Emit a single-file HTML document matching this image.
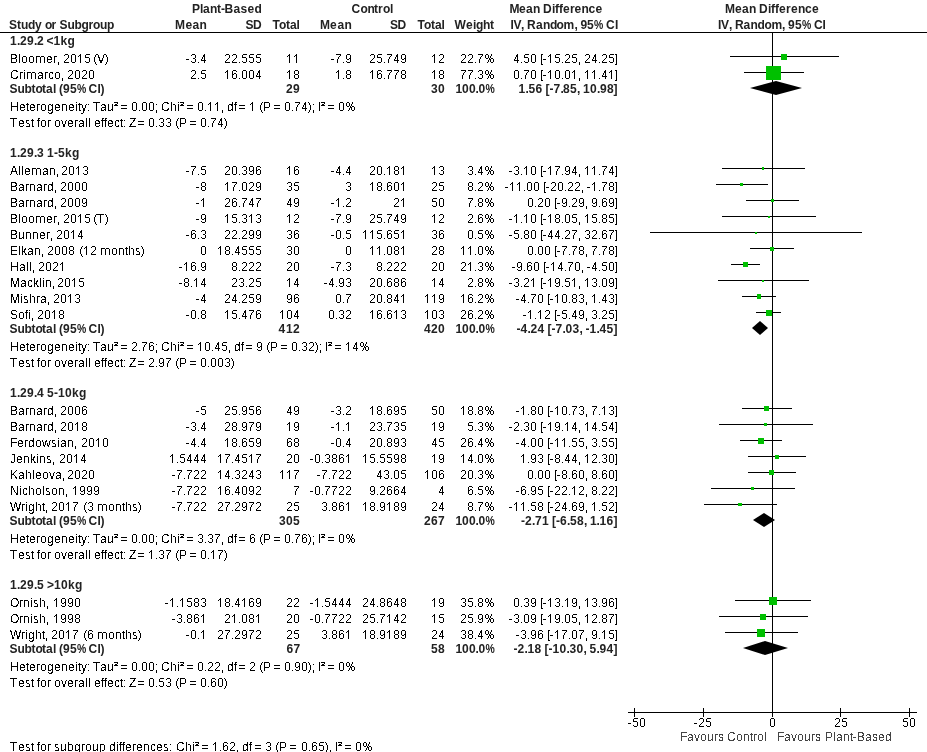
<!DOCTYPE html>
<html><head><meta charset="utf-8"><title>Forest plot</title>
<style>
html,body{margin:0;padding:0;background:#fff;overflow:hidden;}
svg{display:block;will-change:transform;font-family:"Liberation Sans",sans-serif;font-size:12px;font-kerning:none;font-variant-ligatures:none;}
text{white-space:pre;}
</style></head><body>
<svg width="927" height="752" viewBox="0 0 927 752" shape-rendering="crispEdges">
<defs><filter id="th" filterUnits="userSpaceOnUse" x="0" y="0" width="927" height="752" color-interpolation-filters="sRGB"><feComponentTransfer><feFuncA type="discrete" tableValues="0 1"/></feComponentTransfer></filter>
<path id="g0" d="M1 0h3v1h-3zM0 1h1v1h-1zM4 1h1v1h-1zM0 2h1v1h-1zM4 2h1v1h-1zM0 3h1v1h-1zM4 3h1v1h-1zM0 4h1v1h-1zM4 4h1v1h-1zM0 5h1v1h-1zM4 5h1v1h-1zM0 6h1v1h-1zM4 6h1v1h-1zM0 7h1v1h-1zM4 7h1v1h-1zM1 8h3v1h-3z"/><path id="g1" d="M2 0h1v1h-1zM1 1h2v1h-2zM0 2h1v1h-1zM2 2h1v1h-1zM2 3h1v1h-1zM2 4h1v1h-1zM2 5h1v1h-1zM2 6h1v1h-1zM2 7h1v1h-1zM2 8h1v1h-1z"/><path id="g2" d="M1 0h3v1h-3zM0 1h1v1h-1zM4 1h1v1h-1zM4 2h1v1h-1zM4 3h1v1h-1zM3 4h1v1h-1zM2 5h1v1h-1zM1 6h1v1h-1zM0 7h1v1h-1zM0 8h5v1h-5z"/><path id="g3" d="M1 0h3v1h-3zM0 1h1v1h-1zM4 1h1v1h-1zM4 2h1v1h-1zM4 3h1v1h-1zM2 4h2v1h-2zM4 5h1v1h-1zM4 6h1v1h-1zM0 7h1v1h-1zM4 7h1v1h-1zM1 8h3v1h-3z"/><path id="g4" d="M3 0h1v1h-1zM2 1h2v1h-2zM2 2h2v1h-2zM1 3h1v1h-1zM3 3h1v1h-1zM1 4h1v1h-1zM3 4h1v1h-1zM0 5h1v1h-1zM3 5h1v1h-1zM0 6h5v1h-5zM3 7h1v1h-1zM3 8h1v1h-1z"/><path id="g5" d="M1 0h4v1h-4zM0 1h1v1h-1zM0 2h1v1h-1zM0 3h4v1h-4zM4 4h1v1h-1zM4 5h1v1h-1zM4 6h1v1h-1zM0 7h1v1h-1zM4 7h1v1h-1zM1 8h3v1h-3z"/><path id="g6" d="M1 0h3v1h-3zM0 1h1v1h-1zM4 1h1v1h-1zM0 2h1v1h-1zM0 3h1v1h-1zM2 3h2v1h-2zM0 4h2v1h-2zM4 4h1v1h-1zM0 5h1v1h-1zM4 5h1v1h-1zM0 6h1v1h-1zM4 6h1v1h-1zM0 7h1v1h-1zM4 7h1v1h-1zM1 8h3v1h-3z"/><path id="g7" d="M0 0h5v1h-5zM4 1h1v1h-1zM3 2h1v1h-1zM2 3h1v1h-1zM2 4h1v1h-1zM1 5h1v1h-1zM1 6h1v1h-1zM1 7h1v1h-1zM1 8h1v1h-1z"/><path id="g8" d="M1 0h3v1h-3zM0 1h1v1h-1zM4 1h1v1h-1zM0 2h1v1h-1zM4 2h1v1h-1zM0 3h1v1h-1zM4 3h1v1h-1zM1 4h3v1h-3zM0 5h1v1h-1zM4 5h1v1h-1zM0 6h1v1h-1zM4 6h1v1h-1zM0 7h1v1h-1zM4 7h1v1h-1zM1 8h3v1h-3z"/><path id="g9" d="M1 0h3v1h-3zM0 1h1v1h-1zM4 1h1v1h-1zM0 2h1v1h-1zM4 2h1v1h-1zM0 3h1v1h-1zM4 3h1v1h-1zM0 4h1v1h-1zM3 4h2v1h-2zM1 5h2v1h-2zM4 5h1v1h-1zM4 6h1v1h-1zM0 7h1v1h-1zM4 7h1v1h-1zM1 8h3v1h-3z"/><path id="g10" d="M0 8h1v1h-1z"/><path id="g11" d="M0 8h1v1h-1zM0 9h1v1h-1zM0 10h1v1h-1z"/><path id="g12" d="M0 2h1v1h-1zM0 8h1v1h-1zM0 9h1v1h-1zM0 10h1v1h-1z"/><path id="g13" d="M0 2h1v1h-1zM0 8h1v1h-1z"/><path id="g14" d="M0 5h3v1h-3z"/><path id="g15" d="M0 0h2v1h-2zM0 1h1v1h-1zM0 2h1v1h-1zM0 3h1v1h-1zM0 4h1v1h-1zM0 5h1v1h-1zM0 6h1v1h-1zM0 7h1v1h-1zM0 8h1v1h-1zM0 9h1v1h-1zM0 10h2v1h-2z"/><path id="g16" d="M0 0h2v1h-2zM1 1h1v1h-1zM1 2h1v1h-1zM1 3h1v1h-1zM1 4h1v1h-1zM1 5h1v1h-1zM1 6h1v1h-1zM1 7h1v1h-1zM1 8h1v1h-1zM1 9h1v1h-1zM0 10h2v1h-2z"/><path id="g17" d="M2 0h1v1h-1zM1 1h1v1h-1zM1 2h1v1h-1zM0 3h1v1h-1zM0 4h1v1h-1zM0 5h1v1h-1zM0 6h1v1h-1zM0 7h1v1h-1zM1 8h1v1h-1zM1 9h1v1h-1zM2 10h1v1h-1z"/><path id="g18" d="M0 0h1v1h-1zM1 1h1v1h-1zM1 2h1v1h-1zM2 3h1v1h-1zM2 4h1v1h-1zM2 5h1v1h-1zM2 6h1v1h-1zM2 7h1v1h-1zM1 8h1v1h-1zM1 9h1v1h-1zM0 10h1v1h-1z"/><path id="g19" d="M0 3h6v1h-6zM0 6h6v1h-6z"/><path id="g20" d="M0 0h4v1h-4zM3 1h1v1h-1zM1 2h2v1h-2zM0 3h4v1h-4z"/><path id="g21" d="M0 2h4v1h-4zM5 2h3v1h-3zM0 3h1v1h-1zM4 3h1v1h-1zM8 3h1v1h-1zM0 4h1v1h-1zM4 4h1v1h-1zM8 4h1v1h-1zM0 5h1v1h-1zM4 5h1v1h-1zM8 5h1v1h-1zM0 6h1v1h-1zM4 6h1v1h-1zM8 6h1v1h-1zM0 7h1v1h-1zM4 7h1v1h-1zM8 7h1v1h-1zM0 8h1v1h-1zM4 8h1v1h-1zM8 8h1v1h-1z"/><path id="g22" d="M1 0h2v1h-2zM6 0h1v1h-1zM0 1h1v1h-1zM3 1h1v1h-1zM6 1h1v1h-1zM0 2h1v1h-1zM3 2h1v1h-1zM5 2h1v1h-1zM0 3h1v1h-1zM3 3h1v1h-1zM5 3h1v1h-1zM1 4h2v1h-2zM4 4h1v1h-1zM6 4h2v1h-2zM4 5h2v1h-2zM8 5h1v1h-1zM3 6h1v1h-1zM5 6h1v1h-1zM8 6h1v1h-1zM3 7h1v1h-1zM5 7h1v1h-1zM8 7h1v1h-1zM2 8h1v1h-1zM6 8h2v1h-2z"/></defs>
<rect width="927" height="752" fill="#fff"/>
<text y="13" x="192 200 203 210 217 221 224.5 233.5 240.5 247.5 254.5" font-weight="bold" fill="#222">Plant-Based</text>
<text y="13" x="351.5 360.5 367.5 374 378 383 390" font-weight="bold" fill="#222">Control</text>
<text y="13" x="509.5 519 526 533 543 552 555 559 563 570 574.5 581.5 588.5 595.5" font-weight="bold" fill="#222">MeanDifference</text>
<text y="13" x="725 735 742 749 759 768 771 775 779 786 791 798 805 812" font-weight="bold" fill="#222">MeanDifference</text>
<text y="29" x="9 17 21 28 35 45 51.5 59.5 67.5 74.5 81.5 88.5 93 100 107" font-weight="bold" fill="#222">StudyorSubgroup</text>
<text y="29" x="175 185.5 192.5 199.5" font-weight="bold" fill="#222">Mean</text>
<text y="29" x="245.5 253" font-weight="bold" fill="#222">SD</text>
<text y="29" x="272.5 279 286 290 296.5" font-weight="bold" fill="#222">Total</text>
<text y="29" x="320 330 337.5 344.5" font-weight="bold" fill="#222">Mean</text>
<text y="29" x="390 397.5" font-weight="bold" fill="#222">SD</text>
<text y="29" x="417.5 424 431 435 441.5" font-weight="bold" fill="#222">Total</text>
<text y="29" x="454.5 466 473 476 483 490" font-weight="bold" fill="#222">Weight</text>
<text y="29" x="510.5 513.5 521 527 536 543 550 556.5 563.5 574.5 580.5 587" font-weight="bold" fill="#222">IV,Random,95</text>
<text transform="translate(594,29) scale(0.87,1)" font-weight="bold" fill="#222">%</text>
<text y="29" x="606 615" font-weight="bold" fill="#222">CI</text>
<text y="29" x="718 721 729 735 743.5 750.5 757.5 764.5 771.5 782 788 795" font-weight="bold" fill="#222">IV,Random,95</text>
<text transform="translate(802,29) scale(0.87,1)" font-weight="bold" fill="#222">%</text>
<text y="29" x="814 822.5" font-weight="bold" fill="#222">CI</text>
<rect x="0" y="32" width="927" height="1" fill="#000"/>
<rect x="772" y="33" width="1" height="679" fill="#000"/>
<text y="45" x="10 17 20 27 34 37 46.5 53.5 60.5 67.5" font-weight="bold" fill="#222">1.29.2&lt;1kg</text>
<rect x="730" y="56" width="109" height="1" fill="#000"/>
<rect x="781" y="54" width="6" height="6" fill="#00c000"/>
<rect x="744" y="72" width="60" height="1" fill="#000"/>
<rect x="766" y="66" width="15" height="14" fill="#00c000"/>
<text y="93" x="9.5 17.5 24.5 31.5 35.5 42 46 53 59 63 70" font-weight="bold" fill="#222">Subtotal(95</text>
<text transform="translate(77,93) scale(0.87,1)" font-weight="bold" fill="#222">%</text>
<text y="93" x="88.5 97.5 100.5" font-weight="bold" fill="#222">CI)</text>
<text y="93" x="286 293" font-weight="bold" fill="#222">29</text>
<text y="93" x="431 438" font-weight="bold" fill="#222">30</text>
<text y="93" x="455.5 462 469 475.5 478.5" font-weight="bold" fill="#222">100.0</text>
<text transform="translate(485.5,93) scale(0.87,1)" font-weight="bold" fill="#222">%</text>
<text y="93" x="518.5 525.5 528.5 535.5 545.5 549.5 553.5 560.5 563 570 577 583 590 597 600 607 613.5" font-weight="bold" fill="#222">1.56[-7.85,10.98]</text>
<polygon shape-rendering="geometricPrecision" points="750,88 776,81 802,88 776,95" fill="#000"/>
<text y="157" x="10 17 20 27 34 37 47 54 58 65 72" font-weight="bold" fill="#222">1.29.31-5kg</text>
<rect x="722" y="168" width="83" height="1" fill="#000"/>
<rect x="762" y="167" width="2" height="3" fill="#00c000"/>
<rect x="716" y="184" width="52" height="1" fill="#000"/>
<rect x="740" y="183" width="3" height="3" fill="#00c000"/>
<rect x="746" y="200" width="53" height="1" fill="#000"/>
<rect x="771" y="199" width="3" height="3" fill="#00c000"/>
<rect x="722" y="216" width="94" height="1" fill="#000"/>
<rect x="768" y="216" width="2" height="2" fill="#00c000"/>
<rect x="650" y="232" width="212" height="1" fill="#000"/>
<rect x="755" y="232" width="2" height="2" fill="#00c000"/>
<rect x="750" y="248" width="44" height="1" fill="#000"/>
<rect x="770" y="247" width="4" height="4" fill="#00c000"/>
<rect x="731" y="264" width="29" height="1" fill="#000"/>
<rect x="743" y="262" width="5" height="5" fill="#00c000"/>
<rect x="718" y="280" width="91" height="1" fill="#000"/>
<rect x="762" y="280" width="2" height="2" fill="#00c000"/>
<rect x="742" y="296" width="34" height="1" fill="#000"/>
<rect x="757" y="294" width="4" height="5" fill="#00c000"/>
<rect x="756" y="312" width="25" height="1" fill="#000"/>
<rect x="766" y="310" width="6" height="6" fill="#00c000"/>
<text y="333" x="9.5 17.5 24.5 31.5 35.5 42 46 53 59 63 70" font-weight="bold" fill="#222">Subtotal(95</text>
<text transform="translate(77,333) scale(0.87,1)" font-weight="bold" fill="#222">%</text>
<text y="333" x="88.5 97.5 100.5" font-weight="bold" fill="#222">CI)</text>
<text y="333" x="278.5 286 293" font-weight="bold" fill="#222">412</text>
<text y="333" x="424 431 438" font-weight="bold" fill="#222">420</text>
<text y="333" x="455.5 462 469 475.5 478.5" font-weight="bold" fill="#222">100.0</text>
<text transform="translate(485.5,333) scale(0.87,1)" font-weight="bold" fill="#222">%</text>
<text y="333" x="516.5 520.5 527.5 530.5 537.5 547.5 551.5 555.5 562.5 565.5 572.5 579.5 585.5 589.5 596.5 599.5 606.5 613.5" font-weight="bold" fill="#222">-4.24[-7.03,-1.45]</text>
<polygon shape-rendering="geometricPrecision" points="752,328 760,321 768,328 760,335" fill="#000"/>
<text y="397" x="10 17 20 27 34 37 47 54 58 65 72 79" font-weight="bold" fill="#222">1.29.45-10kg</text>
<rect x="742" y="408" width="50" height="1" fill="#000"/>
<rect x="764" y="406" width="5" height="5" fill="#00c000"/>
<rect x="719" y="424" width="94" height="1" fill="#000"/>
<rect x="764" y="423" width="3" height="3" fill="#00c000"/>
<rect x="740" y="440" width="42" height="1" fill="#000"/>
<rect x="758" y="438" width="6" height="6" fill="#00c000"/>
<rect x="748" y="456" width="58" height="1" fill="#000"/>
<rect x="775" y="455" width="4" height="4" fill="#00c000"/>
<rect x="748" y="472" width="48" height="1" fill="#000"/>
<rect x="769" y="470" width="5" height="5" fill="#00c000"/>
<rect x="711" y="488" width="84" height="1" fill="#000"/>
<rect x="751" y="487" width="3" height="3" fill="#00c000"/>
<rect x="704" y="504" width="73" height="1" fill="#000"/>
<rect x="738" y="503" width="4" height="3" fill="#00c000"/>
<text y="525" x="9.5 17.5 24.5 31.5 35.5 42 46 53 59 63 70" font-weight="bold" fill="#222">Subtotal(95</text>
<text transform="translate(77,525) scale(0.87,1)" font-weight="bold" fill="#222">%</text>
<text y="525" x="88.5 97.5 100.5" font-weight="bold" fill="#222">CI)</text>
<text y="525" x="279 286 293" font-weight="bold" fill="#222">305</text>
<text y="525" x="424 431 438" font-weight="bold" fill="#222">267</text>
<text y="525" x="455.5 462 469 475.5 478.5" font-weight="bold" fill="#222">100.0</text>
<text transform="translate(485.5,525) scale(0.87,1)" font-weight="bold" fill="#222">%</text>
<text y="525" x="521 525 532 535 542 552 556 560 567 570 577 584 590 596.5 599.5 606.5 613.5" font-weight="bold" fill="#222">-2.71[-6.58,1.16]</text>
<polygon shape-rendering="geometricPrecision" points="753,520 764,513 775,520 764,527" fill="#000"/>
<text y="589" x="10 17 20 27 34 37 47 54 61 68 75" font-weight="bold" fill="#222">1.29.5&gt;10kg</text>
<rect x="735" y="600" width="76" height="1" fill="#000"/>
<rect x="769" y="597" width="8" height="8" fill="#00c000"/>
<rect x="719" y="616" width="89" height="1" fill="#000"/>
<rect x="760" y="614" width="6" height="6" fill="#00c000"/>
<rect x="725" y="632" width="73" height="1" fill="#000"/>
<rect x="757" y="629" width="8" height="8" fill="#00c000"/>
<text y="653" x="9.5 17.5 24.5 31.5 35.5 42 46 53 59 63 70" font-weight="bold" fill="#222">Subtotal(95</text>
<text transform="translate(77,653) scale(0.87,1)" font-weight="bold" fill="#222">%</text>
<text y="653" x="88.5 97.5 100.5" font-weight="bold" fill="#222">CI)</text>
<text y="653" x="286.5 293.5" font-weight="bold" fill="#222">67</text>
<text y="653" x="431 438" font-weight="bold" fill="#222">58</text>
<text y="653" x="455.5 462 469 475.5 478.5" font-weight="bold" fill="#222">100.0</text>
<text transform="translate(485.5,653) scale(0.87,1)" font-weight="bold" fill="#222">%</text>
<text y="653" x="513.5 517.5 524.5 527.5 534.5 544.5 548.5 552.5 559.5 566.5 569.5 576.5 583.5 589.5 596.5 599.5 606.5 613.5" font-weight="bold" fill="#222">-2.18[-10.30,5.94]</text>
<polygon shape-rendering="geometricPrecision" points="743,648 765,641 788,648 765,655" fill="#000"/>
<rect x="628" y="712" width="289" height="1" fill="#000"/>
<rect x="634" y="708" width="1" height="9" fill="#000"/>
<rect x="703" y="708" width="1" height="9" fill="#000"/>
<rect x="772" y="708" width="1" height="9" fill="#000"/>
<rect x="840" y="708" width="1" height="9" fill="#000"/>
<rect x="909" y="708" width="1" height="9" fill="#000"/>
<g filter="url(#th)">
<text y="63" x="10 18 21 28 46 53 97">BlooerV</text>
<text y="79" x="10 19 23 37 44 48 54">Criarco</text>
<text y="111" x="10 19 26 29 36 40 47 54 61 68 75 78 81 93 100 107 161 170 177 227 234 263 318">HeterogeneityTauChidfPI</text>
<text y="127" x="10 18 25 31 37 40 47 54 61 67 74 78 85 88 94 101 104 107 114 120 129 179">TestforoveralleffectZP</text>
<text y="175" x="10 18 21 24 42 49">Allean</text>
<text y="191" x="10 18 25 29 36 43 47">Barnard</text>
<text y="207" x="10 18 25 29 36 43 47">Barnard</text>
<text y="223" x="10 18 21 28 46 53 97">BlooerT</text>
<text y="239" x="10 18 25 32 39 46">Bunner</text>
<text y="255" x="10 18 21 27 34 111 118 125 128 135">Elkanonths</text>
<text y="271" x="10 19 26 29">Hall</text>
<text y="287" x="10 20 27 33 39 42 45">Macklin</text>
<text y="303" x="10 20 23 29 36 40">Mishra</text>
<text y="319" x="10 18 25 28">Sofi</text>
<text y="351" x="10 19 26 29 36 40 47 54 61 68 75 78 81 93 100 107 161 170 177 234 241 270 325">HeterogeneityTauChidfPI</text>
<text y="367" x="10 18 25 31 37 40 47 54 61 67 74 78 85 88 94 101 104 107 114 120 129 179">TestforoveralleffectZP</text>
<text y="415" x="10 18 25 29 36 43 47">Barnard</text>
<text y="431" x="10 18 25 29 36 43 47">Barnard</text>
<text y="447" x="10 17 24 28 35 42 51 57 60 67">Ferdowsian</text>
<text y="463" x="10 16 23 30 36 39 46">Jenkins</text>
<text y="479" x="10 18 25 32 35 42 49 55">Kahleova</text>
<text y="495" x="10 19 22 28 35 42 45 51 58">Nicholson</text>
<text y="511" x="10 21 25 28 35 42 108 115 122 125 132">Wrightonths</text>
<text y="543" x="10 19 26 29 36 40 47 54 61 68 75 78 81 93 100 107 161 170 177 227 234 263 318">HeterogeneityTauChidfPI</text>
<text y="559" x="10 18 25 31 37 40 47 54 61 67 74 78 85 88 94 101 104 107 114 120 129 179">TestforoveralleffectZP</text>
<text y="607" x="10 19 23 30 33 39">Ornish</text>
<text y="623" x="10 19 23 30 33 39">Ornish</text>
<text y="639" x="10 21 25 28 35 42 108 115 122 125 132">Wrightonths</text>
<text y="671" x="10 19 26 29 36 40 47 54 61 68 75 78 81 93 100 107 161 170 177 227 234 263 318">HeterogeneityTauChidfPI</text>
<text y="687" x="10 18 25 31 37 40 47 54 61 67 74 78 85 88 94 101 104 107 114 120 129 179">TestforoveralleffectZP</text>
<text y="741" x="680 687 694 700 707 714 718 727 736 743 750 753 757 764" fill="#444">FavoursControl</text>
<text y="741" x="777 784 791 797 804 811 815 825 833 836 843 850 857 865 872 878 885" fill="#444">FavoursPlantBased</text>
<text y="751" x="10 18 25 31 37 40 47 54 60 67 74 81 85 92 99 109 116 119 122 125 132 136 143 150 156 163 176 185 192 242 249 279 335">TestforsubgroupdifferencesChidfPI</text>
</g>
<g fill="#000">
<use href="#g21" x="36" y="54"/>
<use href="#g11" x="58" y="54"/>
<use href="#g2" x="64" y="54"/>
<use href="#g0" x="71" y="54"/>
<use href="#g1" x="78" y="54"/>
<use href="#g5" x="85" y="54"/>
<use href="#g17" x="94" y="54"/>
<use href="#g18" x="105" y="54"/>
<use href="#g14" x="186" y="54"/>
<use href="#g3" x="191" y="54"/>
<use href="#g10" x="198" y="54"/>
<use href="#g4" x="201" y="54"/>
<use href="#g2" x="225" y="54"/>
<use href="#g2" x="232" y="54"/>
<use href="#g10" x="239" y="54"/>
<use href="#g5" x="242" y="54"/>
<use href="#g5" x="249" y="54"/>
<use href="#g5" x="256" y="54"/>
<use href="#g1" x="287" y="54"/>
<use href="#g1" x="294" y="54"/>
<use href="#g14" x="331" y="54"/>
<use href="#g7" x="336" y="54"/>
<use href="#g10" x="343" y="54"/>
<use href="#g9" x="346" y="54"/>
<use href="#g2" x="370" y="54"/>
<use href="#g5" x="377" y="54"/>
<use href="#g10" x="384" y="54"/>
<use href="#g7" x="387" y="54"/>
<use href="#g4" x="394" y="54"/>
<use href="#g9" x="401" y="54"/>
<use href="#g1" x="432" y="54"/>
<use href="#g2" x="439" y="54"/>
<use href="#g2" x="461" y="54"/>
<use href="#g2" x="468" y="54"/>
<use href="#g10" x="475" y="54"/>
<use href="#g7" x="478" y="54"/>
<use href="#g22" x="485" y="54"/>
<use href="#g4" x="514" y="54"/>
<use href="#g10" x="521" y="54"/>
<use href="#g5" x="524" y="54"/>
<use href="#g0" x="531" y="54"/>
<use href="#g15" x="541" y="54"/>
<use href="#g14" x="543" y="54"/>
<use href="#g1" x="548" y="54"/>
<use href="#g5" x="555" y="54"/>
<use href="#g10" x="562" y="54"/>
<use href="#g2" x="565" y="54"/>
<use href="#g5" x="572" y="54"/>
<use href="#g11" x="579" y="54"/>
<use href="#g2" x="585" y="54"/>
<use href="#g4" x="592" y="54"/>
<use href="#g10" x="599" y="54"/>
<use href="#g2" x="602" y="54"/>
<use href="#g5" x="609" y="54"/>
<use href="#g16" x="615" y="54"/>
<use href="#g21" x="27" y="70"/>
<use href="#g11" x="62" y="70"/>
<use href="#g2" x="68" y="70"/>
<use href="#g0" x="75" y="70"/>
<use href="#g2" x="82" y="70"/>
<use href="#g0" x="89" y="70"/>
<use href="#g2" x="191" y="70"/>
<use href="#g10" x="198" y="70"/>
<use href="#g5" x="201" y="70"/>
<use href="#g1" x="225" y="70"/>
<use href="#g6" x="232" y="70"/>
<use href="#g10" x="239" y="70"/>
<use href="#g0" x="242" y="70"/>
<use href="#g0" x="249" y="70"/>
<use href="#g4" x="256" y="70"/>
<use href="#g1" x="287" y="70"/>
<use href="#g8" x="294" y="70"/>
<use href="#g1" x="336" y="70"/>
<use href="#g10" x="343" y="70"/>
<use href="#g8" x="346" y="70"/>
<use href="#g1" x="370" y="70"/>
<use href="#g6" x="377" y="70"/>
<use href="#g10" x="384" y="70"/>
<use href="#g7" x="387" y="70"/>
<use href="#g7" x="394" y="70"/>
<use href="#g8" x="401" y="70"/>
<use href="#g1" x="432" y="70"/>
<use href="#g8" x="439" y="70"/>
<use href="#g7" x="461" y="70"/>
<use href="#g7" x="468" y="70"/>
<use href="#g10" x="475" y="70"/>
<use href="#g3" x="478" y="70"/>
<use href="#g22" x="485" y="70"/>
<use href="#g0" x="514" y="70"/>
<use href="#g10" x="521" y="70"/>
<use href="#g7" x="524" y="70"/>
<use href="#g0" x="531" y="70"/>
<use href="#g15" x="541" y="70"/>
<use href="#g14" x="543" y="70"/>
<use href="#g1" x="548" y="70"/>
<use href="#g0" x="555" y="70"/>
<use href="#g10" x="562" y="70"/>
<use href="#g0" x="565" y="70"/>
<use href="#g1" x="572" y="70"/>
<use href="#g11" x="579" y="70"/>
<use href="#g1" x="585" y="70"/>
<use href="#g1" x="592" y="70"/>
<use href="#g10" x="599" y="70"/>
<use href="#g4" x="602" y="70"/>
<use href="#g1" x="609" y="70"/>
<use href="#g16" x="615" y="70"/>
<use href="#g13" x="88" y="102"/>
<use href="#g20" x="114" y="102"/>
<use href="#g19" x="121" y="102"/>
<use href="#g0" x="132" y="102"/>
<use href="#g10" x="139" y="102"/>
<use href="#g0" x="142" y="102"/>
<use href="#g0" x="149" y="102"/>
<use href="#g12" x="156" y="102"/>
<use href="#g20" x="180" y="102"/>
<use href="#g19" x="187" y="102"/>
<use href="#g0" x="198" y="102"/>
<use href="#g10" x="205" y="102"/>
<use href="#g1" x="208" y="102"/>
<use href="#g1" x="215" y="102"/>
<use href="#g11" x="222" y="102"/>
<use href="#g19" x="239" y="102"/>
<use href="#g1" x="250" y="102"/>
<use href="#g17" x="260" y="102"/>
<use href="#g19" x="274" y="102"/>
<use href="#g0" x="285" y="102"/>
<use href="#g10" x="292" y="102"/>
<use href="#g7" x="295" y="102"/>
<use href="#g4" x="302" y="102"/>
<use href="#g18" x="308" y="102"/>
<use href="#g12" x="313" y="102"/>
<use href="#g20" x="321" y="102"/>
<use href="#g19" x="328" y="102"/>
<use href="#g0" x="339" y="102"/>
<use href="#g22" x="346" y="102"/>
<use href="#g13" x="124" y="118"/>
<use href="#g19" x="138" y="118"/>
<use href="#g0" x="149" y="118"/>
<use href="#g10" x="156" y="118"/>
<use href="#g3" x="159" y="118"/>
<use href="#g3" x="166" y="118"/>
<use href="#g17" x="176" y="118"/>
<use href="#g19" x="190" y="118"/>
<use href="#g0" x="201" y="118"/>
<use href="#g10" x="208" y="118"/>
<use href="#g7" x="211" y="118"/>
<use href="#g4" x="218" y="118"/>
<use href="#g18" x="224" y="118"/>
<use href="#g21" x="32" y="166"/>
<use href="#g11" x="57" y="166"/>
<use href="#g2" x="62" y="166"/>
<use href="#g0" x="69" y="166"/>
<use href="#g1" x="76" y="166"/>
<use href="#g3" x="83" y="166"/>
<use href="#g14" x="186" y="166"/>
<use href="#g7" x="191" y="166"/>
<use href="#g10" x="198" y="166"/>
<use href="#g5" x="201" y="166"/>
<use href="#g2" x="225" y="166"/>
<use href="#g0" x="232" y="166"/>
<use href="#g10" x="239" y="166"/>
<use href="#g3" x="242" y="166"/>
<use href="#g9" x="249" y="166"/>
<use href="#g6" x="256" y="166"/>
<use href="#g1" x="287" y="166"/>
<use href="#g6" x="294" y="166"/>
<use href="#g14" x="331" y="166"/>
<use href="#g4" x="336" y="166"/>
<use href="#g10" x="343" y="166"/>
<use href="#g4" x="346" y="166"/>
<use href="#g2" x="370" y="166"/>
<use href="#g0" x="377" y="166"/>
<use href="#g10" x="384" y="166"/>
<use href="#g1" x="387" y="166"/>
<use href="#g8" x="394" y="166"/>
<use href="#g1" x="401" y="166"/>
<use href="#g1" x="432" y="166"/>
<use href="#g3" x="439" y="166"/>
<use href="#g3" x="468" y="166"/>
<use href="#g10" x="475" y="166"/>
<use href="#g4" x="478" y="166"/>
<use href="#g22" x="485" y="166"/>
<use href="#g14" x="509" y="166"/>
<use href="#g3" x="514" y="166"/>
<use href="#g10" x="521" y="166"/>
<use href="#g1" x="524" y="166"/>
<use href="#g0" x="531" y="166"/>
<use href="#g15" x="541" y="166"/>
<use href="#g14" x="543" y="166"/>
<use href="#g1" x="548" y="166"/>
<use href="#g7" x="555" y="166"/>
<use href="#g10" x="562" y="166"/>
<use href="#g9" x="565" y="166"/>
<use href="#g4" x="572" y="166"/>
<use href="#g11" x="579" y="166"/>
<use href="#g1" x="585" y="166"/>
<use href="#g1" x="592" y="166"/>
<use href="#g10" x="599" y="166"/>
<use href="#g7" x="602" y="166"/>
<use href="#g4" x="609" y="166"/>
<use href="#g16" x="615" y="166"/>
<use href="#g11" x="55" y="182"/>
<use href="#g2" x="61" y="182"/>
<use href="#g0" x="68" y="182"/>
<use href="#g0" x="75" y="182"/>
<use href="#g0" x="82" y="182"/>
<use href="#g14" x="196" y="182"/>
<use href="#g8" x="201" y="182"/>
<use href="#g1" x="225" y="182"/>
<use href="#g7" x="232" y="182"/>
<use href="#g10" x="239" y="182"/>
<use href="#g0" x="242" y="182"/>
<use href="#g2" x="249" y="182"/>
<use href="#g9" x="256" y="182"/>
<use href="#g3" x="287" y="182"/>
<use href="#g5" x="294" y="182"/>
<use href="#g3" x="346" y="182"/>
<use href="#g1" x="370" y="182"/>
<use href="#g8" x="377" y="182"/>
<use href="#g10" x="384" y="182"/>
<use href="#g6" x="387" y="182"/>
<use href="#g0" x="394" y="182"/>
<use href="#g1" x="401" y="182"/>
<use href="#g2" x="432" y="182"/>
<use href="#g5" x="439" y="182"/>
<use href="#g8" x="468" y="182"/>
<use href="#g10" x="475" y="182"/>
<use href="#g2" x="478" y="182"/>
<use href="#g22" x="485" y="182"/>
<use href="#g14" x="505" y="182"/>
<use href="#g1" x="510" y="182"/>
<use href="#g1" x="517" y="182"/>
<use href="#g10" x="524" y="182"/>
<use href="#g0" x="527" y="182"/>
<use href="#g0" x="534" y="182"/>
<use href="#g15" x="544" y="182"/>
<use href="#g14" x="546" y="182"/>
<use href="#g2" x="551" y="182"/>
<use href="#g0" x="558" y="182"/>
<use href="#g10" x="565" y="182"/>
<use href="#g2" x="568" y="182"/>
<use href="#g2" x="575" y="182"/>
<use href="#g11" x="582" y="182"/>
<use href="#g14" x="587" y="182"/>
<use href="#g1" x="592" y="182"/>
<use href="#g10" x="599" y="182"/>
<use href="#g7" x="602" y="182"/>
<use href="#g8" x="609" y="182"/>
<use href="#g16" x="615" y="182"/>
<use href="#g11" x="55" y="198"/>
<use href="#g2" x="61" y="198"/>
<use href="#g0" x="68" y="198"/>
<use href="#g0" x="75" y="198"/>
<use href="#g9" x="82" y="198"/>
<use href="#g14" x="196" y="198"/>
<use href="#g1" x="201" y="198"/>
<use href="#g2" x="225" y="198"/>
<use href="#g6" x="232" y="198"/>
<use href="#g10" x="239" y="198"/>
<use href="#g7" x="242" y="198"/>
<use href="#g4" x="249" y="198"/>
<use href="#g7" x="256" y="198"/>
<use href="#g4" x="287" y="198"/>
<use href="#g9" x="294" y="198"/>
<use href="#g14" x="331" y="198"/>
<use href="#g1" x="336" y="198"/>
<use href="#g10" x="343" y="198"/>
<use href="#g2" x="346" y="198"/>
<use href="#g2" x="394" y="198"/>
<use href="#g1" x="401" y="198"/>
<use href="#g5" x="432" y="198"/>
<use href="#g0" x="439" y="198"/>
<use href="#g7" x="468" y="198"/>
<use href="#g10" x="475" y="198"/>
<use href="#g8" x="478" y="198"/>
<use href="#g22" x="485" y="198"/>
<use href="#g0" x="528" y="198"/>
<use href="#g10" x="535" y="198"/>
<use href="#g2" x="538" y="198"/>
<use href="#g0" x="545" y="198"/>
<use href="#g15" x="555" y="198"/>
<use href="#g14" x="557" y="198"/>
<use href="#g9" x="562" y="198"/>
<use href="#g10" x="569" y="198"/>
<use href="#g2" x="572" y="198"/>
<use href="#g9" x="579" y="198"/>
<use href="#g11" x="586" y="198"/>
<use href="#g9" x="592" y="198"/>
<use href="#g10" x="599" y="198"/>
<use href="#g6" x="602" y="198"/>
<use href="#g9" x="609" y="198"/>
<use href="#g16" x="615" y="198"/>
<use href="#g21" x="36" y="214"/>
<use href="#g11" x="58" y="214"/>
<use href="#g2" x="64" y="214"/>
<use href="#g0" x="71" y="214"/>
<use href="#g1" x="78" y="214"/>
<use href="#g5" x="85" y="214"/>
<use href="#g17" x="94" y="214"/>
<use href="#g18" x="105" y="214"/>
<use href="#g14" x="196" y="214"/>
<use href="#g9" x="201" y="214"/>
<use href="#g1" x="225" y="214"/>
<use href="#g5" x="232" y="214"/>
<use href="#g10" x="239" y="214"/>
<use href="#g3" x="242" y="214"/>
<use href="#g1" x="249" y="214"/>
<use href="#g3" x="256" y="214"/>
<use href="#g1" x="287" y="214"/>
<use href="#g2" x="294" y="214"/>
<use href="#g14" x="331" y="214"/>
<use href="#g7" x="336" y="214"/>
<use href="#g10" x="343" y="214"/>
<use href="#g9" x="346" y="214"/>
<use href="#g2" x="370" y="214"/>
<use href="#g5" x="377" y="214"/>
<use href="#g10" x="384" y="214"/>
<use href="#g7" x="387" y="214"/>
<use href="#g4" x="394" y="214"/>
<use href="#g9" x="401" y="214"/>
<use href="#g1" x="432" y="214"/>
<use href="#g2" x="439" y="214"/>
<use href="#g2" x="468" y="214"/>
<use href="#g10" x="475" y="214"/>
<use href="#g6" x="478" y="214"/>
<use href="#g22" x="485" y="214"/>
<use href="#g14" x="509" y="214"/>
<use href="#g1" x="514" y="214"/>
<use href="#g10" x="521" y="214"/>
<use href="#g1" x="524" y="214"/>
<use href="#g0" x="531" y="214"/>
<use href="#g15" x="541" y="214"/>
<use href="#g14" x="543" y="214"/>
<use href="#g1" x="548" y="214"/>
<use href="#g8" x="555" y="214"/>
<use href="#g10" x="562" y="214"/>
<use href="#g0" x="565" y="214"/>
<use href="#g5" x="572" y="214"/>
<use href="#g11" x="579" y="214"/>
<use href="#g1" x="585" y="214"/>
<use href="#g5" x="592" y="214"/>
<use href="#g10" x="599" y="214"/>
<use href="#g8" x="602" y="214"/>
<use href="#g5" x="609" y="214"/>
<use href="#g16" x="615" y="214"/>
<use href="#g11" x="51" y="230"/>
<use href="#g2" x="57" y="230"/>
<use href="#g0" x="64" y="230"/>
<use href="#g1" x="71" y="230"/>
<use href="#g4" x="78" y="230"/>
<use href="#g14" x="186" y="230"/>
<use href="#g6" x="191" y="230"/>
<use href="#g10" x="198" y="230"/>
<use href="#g3" x="201" y="230"/>
<use href="#g2" x="225" y="230"/>
<use href="#g2" x="232" y="230"/>
<use href="#g10" x="239" y="230"/>
<use href="#g2" x="242" y="230"/>
<use href="#g9" x="249" y="230"/>
<use href="#g9" x="256" y="230"/>
<use href="#g3" x="287" y="230"/>
<use href="#g6" x="294" y="230"/>
<use href="#g14" x="331" y="230"/>
<use href="#g0" x="336" y="230"/>
<use href="#g10" x="343" y="230"/>
<use href="#g5" x="346" y="230"/>
<use href="#g1" x="363" y="230"/>
<use href="#g1" x="370" y="230"/>
<use href="#g5" x="377" y="230"/>
<use href="#g10" x="384" y="230"/>
<use href="#g6" x="387" y="230"/>
<use href="#g5" x="394" y="230"/>
<use href="#g1" x="401" y="230"/>
<use href="#g3" x="432" y="230"/>
<use href="#g6" x="439" y="230"/>
<use href="#g0" x="468" y="230"/>
<use href="#g10" x="475" y="230"/>
<use href="#g5" x="478" y="230"/>
<use href="#g22" x="485" y="230"/>
<use href="#g14" x="509" y="230"/>
<use href="#g5" x="514" y="230"/>
<use href="#g10" x="521" y="230"/>
<use href="#g8" x="524" y="230"/>
<use href="#g0" x="531" y="230"/>
<use href="#g15" x="541" y="230"/>
<use href="#g14" x="543" y="230"/>
<use href="#g4" x="548" y="230"/>
<use href="#g4" x="555" y="230"/>
<use href="#g10" x="562" y="230"/>
<use href="#g2" x="565" y="230"/>
<use href="#g7" x="572" y="230"/>
<use href="#g11" x="579" y="230"/>
<use href="#g3" x="585" y="230"/>
<use href="#g2" x="592" y="230"/>
<use href="#g10" x="599" y="230"/>
<use href="#g6" x="602" y="230"/>
<use href="#g7" x="609" y="230"/>
<use href="#g16" x="615" y="230"/>
<use href="#g11" x="42" y="246"/>
<use href="#g2" x="48" y="246"/>
<use href="#g0" x="55" y="246"/>
<use href="#g0" x="62" y="246"/>
<use href="#g8" x="69" y="246"/>
<use href="#g17" x="80" y="246"/>
<use href="#g1" x="84" y="246"/>
<use href="#g2" x="91" y="246"/>
<use href="#g21" x="101" y="246"/>
<use href="#g18" x="141" y="246"/>
<use href="#g0" x="201" y="246"/>
<use href="#g1" x="218" y="246"/>
<use href="#g8" x="225" y="246"/>
<use href="#g10" x="232" y="246"/>
<use href="#g4" x="235" y="246"/>
<use href="#g5" x="242" y="246"/>
<use href="#g5" x="249" y="246"/>
<use href="#g5" x="256" y="246"/>
<use href="#g3" x="287" y="246"/>
<use href="#g0" x="294" y="246"/>
<use href="#g0" x="346" y="246"/>
<use href="#g1" x="370" y="246"/>
<use href="#g1" x="377" y="246"/>
<use href="#g10" x="384" y="246"/>
<use href="#g0" x="387" y="246"/>
<use href="#g8" x="394" y="246"/>
<use href="#g1" x="401" y="246"/>
<use href="#g2" x="432" y="246"/>
<use href="#g8" x="439" y="246"/>
<use href="#g1" x="461" y="246"/>
<use href="#g1" x="468" y="246"/>
<use href="#g10" x="475" y="246"/>
<use href="#g0" x="478" y="246"/>
<use href="#g22" x="485" y="246"/>
<use href="#g0" x="528" y="246"/>
<use href="#g10" x="535" y="246"/>
<use href="#g0" x="538" y="246"/>
<use href="#g0" x="545" y="246"/>
<use href="#g15" x="555" y="246"/>
<use href="#g14" x="557" y="246"/>
<use href="#g7" x="562" y="246"/>
<use href="#g10" x="569" y="246"/>
<use href="#g7" x="572" y="246"/>
<use href="#g8" x="579" y="246"/>
<use href="#g11" x="586" y="246"/>
<use href="#g7" x="592" y="246"/>
<use href="#g10" x="599" y="246"/>
<use href="#g7" x="602" y="246"/>
<use href="#g8" x="609" y="246"/>
<use href="#g16" x="615" y="246"/>
<use href="#g11" x="33" y="262"/>
<use href="#g2" x="39" y="262"/>
<use href="#g0" x="46" y="262"/>
<use href="#g2" x="53" y="262"/>
<use href="#g1" x="60" y="262"/>
<use href="#g14" x="179" y="262"/>
<use href="#g1" x="184" y="262"/>
<use href="#g6" x="191" y="262"/>
<use href="#g10" x="198" y="262"/>
<use href="#g9" x="201" y="262"/>
<use href="#g8" x="232" y="262"/>
<use href="#g10" x="239" y="262"/>
<use href="#g2" x="242" y="262"/>
<use href="#g2" x="249" y="262"/>
<use href="#g2" x="256" y="262"/>
<use href="#g2" x="287" y="262"/>
<use href="#g0" x="294" y="262"/>
<use href="#g14" x="331" y="262"/>
<use href="#g7" x="336" y="262"/>
<use href="#g10" x="343" y="262"/>
<use href="#g3" x="346" y="262"/>
<use href="#g8" x="377" y="262"/>
<use href="#g10" x="384" y="262"/>
<use href="#g2" x="387" y="262"/>
<use href="#g2" x="394" y="262"/>
<use href="#g2" x="401" y="262"/>
<use href="#g2" x="432" y="262"/>
<use href="#g0" x="439" y="262"/>
<use href="#g2" x="461" y="262"/>
<use href="#g1" x="468" y="262"/>
<use href="#g10" x="475" y="262"/>
<use href="#g3" x="478" y="262"/>
<use href="#g22" x="485" y="262"/>
<use href="#g14" x="512" y="262"/>
<use href="#g9" x="517" y="262"/>
<use href="#g10" x="524" y="262"/>
<use href="#g6" x="527" y="262"/>
<use href="#g0" x="534" y="262"/>
<use href="#g15" x="544" y="262"/>
<use href="#g14" x="546" y="262"/>
<use href="#g1" x="551" y="262"/>
<use href="#g4" x="558" y="262"/>
<use href="#g10" x="565" y="262"/>
<use href="#g7" x="568" y="262"/>
<use href="#g0" x="575" y="262"/>
<use href="#g11" x="582" y="262"/>
<use href="#g14" x="587" y="262"/>
<use href="#g4" x="592" y="262"/>
<use href="#g10" x="599" y="262"/>
<use href="#g5" x="602" y="262"/>
<use href="#g0" x="609" y="262"/>
<use href="#g16" x="615" y="262"/>
<use href="#g11" x="53" y="278"/>
<use href="#g2" x="58" y="278"/>
<use href="#g0" x="65" y="278"/>
<use href="#g1" x="72" y="278"/>
<use href="#g5" x="79" y="278"/>
<use href="#g14" x="179" y="278"/>
<use href="#g8" x="184" y="278"/>
<use href="#g10" x="191" y="278"/>
<use href="#g1" x="194" y="278"/>
<use href="#g4" x="201" y="278"/>
<use href="#g2" x="232" y="278"/>
<use href="#g3" x="239" y="278"/>
<use href="#g10" x="246" y="278"/>
<use href="#g2" x="249" y="278"/>
<use href="#g5" x="256" y="278"/>
<use href="#g1" x="287" y="278"/>
<use href="#g4" x="294" y="278"/>
<use href="#g14" x="324" y="278"/>
<use href="#g4" x="329" y="278"/>
<use href="#g10" x="336" y="278"/>
<use href="#g9" x="339" y="278"/>
<use href="#g3" x="346" y="278"/>
<use href="#g2" x="370" y="278"/>
<use href="#g0" x="377" y="278"/>
<use href="#g10" x="384" y="278"/>
<use href="#g6" x="387" y="278"/>
<use href="#g8" x="394" y="278"/>
<use href="#g6" x="401" y="278"/>
<use href="#g1" x="432" y="278"/>
<use href="#g4" x="439" y="278"/>
<use href="#g2" x="468" y="278"/>
<use href="#g10" x="475" y="278"/>
<use href="#g8" x="478" y="278"/>
<use href="#g22" x="485" y="278"/>
<use href="#g14" x="509" y="278"/>
<use href="#g3" x="514" y="278"/>
<use href="#g10" x="521" y="278"/>
<use href="#g2" x="524" y="278"/>
<use href="#g1" x="531" y="278"/>
<use href="#g15" x="541" y="278"/>
<use href="#g14" x="543" y="278"/>
<use href="#g1" x="548" y="278"/>
<use href="#g9" x="555" y="278"/>
<use href="#g10" x="562" y="278"/>
<use href="#g5" x="565" y="278"/>
<use href="#g1" x="572" y="278"/>
<use href="#g11" x="579" y="278"/>
<use href="#g1" x="585" y="278"/>
<use href="#g3" x="592" y="278"/>
<use href="#g10" x="599" y="278"/>
<use href="#g0" x="602" y="278"/>
<use href="#g9" x="609" y="278"/>
<use href="#g16" x="615" y="278"/>
<use href="#g11" x="48" y="294"/>
<use href="#g2" x="54" y="294"/>
<use href="#g0" x="61" y="294"/>
<use href="#g1" x="68" y="294"/>
<use href="#g3" x="75" y="294"/>
<use href="#g14" x="196" y="294"/>
<use href="#g4" x="201" y="294"/>
<use href="#g2" x="225" y="294"/>
<use href="#g4" x="232" y="294"/>
<use href="#g10" x="239" y="294"/>
<use href="#g2" x="242" y="294"/>
<use href="#g5" x="249" y="294"/>
<use href="#g9" x="256" y="294"/>
<use href="#g9" x="287" y="294"/>
<use href="#g6" x="294" y="294"/>
<use href="#g0" x="336" y="294"/>
<use href="#g10" x="343" y="294"/>
<use href="#g7" x="346" y="294"/>
<use href="#g2" x="370" y="294"/>
<use href="#g0" x="377" y="294"/>
<use href="#g10" x="384" y="294"/>
<use href="#g8" x="387" y="294"/>
<use href="#g4" x="394" y="294"/>
<use href="#g1" x="401" y="294"/>
<use href="#g1" x="425" y="294"/>
<use href="#g1" x="432" y="294"/>
<use href="#g9" x="439" y="294"/>
<use href="#g1" x="461" y="294"/>
<use href="#g6" x="468" y="294"/>
<use href="#g10" x="475" y="294"/>
<use href="#g2" x="478" y="294"/>
<use href="#g22" x="485" y="294"/>
<use href="#g14" x="516" y="294"/>
<use href="#g4" x="521" y="294"/>
<use href="#g10" x="528" y="294"/>
<use href="#g7" x="531" y="294"/>
<use href="#g0" x="538" y="294"/>
<use href="#g15" x="548" y="294"/>
<use href="#g14" x="550" y="294"/>
<use href="#g1" x="555" y="294"/>
<use href="#g0" x="562" y="294"/>
<use href="#g10" x="569" y="294"/>
<use href="#g8" x="572" y="294"/>
<use href="#g3" x="579" y="294"/>
<use href="#g11" x="586" y="294"/>
<use href="#g1" x="592" y="294"/>
<use href="#g10" x="599" y="294"/>
<use href="#g4" x="602" y="294"/>
<use href="#g3" x="609" y="294"/>
<use href="#g16" x="615" y="294"/>
<use href="#g11" x="32" y="310"/>
<use href="#g2" x="38" y="310"/>
<use href="#g0" x="45" y="310"/>
<use href="#g1" x="52" y="310"/>
<use href="#g8" x="59" y="310"/>
<use href="#g14" x="186" y="310"/>
<use href="#g0" x="191" y="310"/>
<use href="#g10" x="198" y="310"/>
<use href="#g8" x="201" y="310"/>
<use href="#g1" x="225" y="310"/>
<use href="#g5" x="232" y="310"/>
<use href="#g10" x="239" y="310"/>
<use href="#g4" x="242" y="310"/>
<use href="#g7" x="249" y="310"/>
<use href="#g6" x="256" y="310"/>
<use href="#g1" x="280" y="310"/>
<use href="#g0" x="287" y="310"/>
<use href="#g4" x="294" y="310"/>
<use href="#g0" x="329" y="310"/>
<use href="#g10" x="336" y="310"/>
<use href="#g3" x="339" y="310"/>
<use href="#g2" x="346" y="310"/>
<use href="#g1" x="370" y="310"/>
<use href="#g6" x="377" y="310"/>
<use href="#g10" x="384" y="310"/>
<use href="#g6" x="387" y="310"/>
<use href="#g1" x="394" y="310"/>
<use href="#g3" x="401" y="310"/>
<use href="#g1" x="425" y="310"/>
<use href="#g0" x="432" y="310"/>
<use href="#g3" x="439" y="310"/>
<use href="#g2" x="461" y="310"/>
<use href="#g6" x="468" y="310"/>
<use href="#g10" x="475" y="310"/>
<use href="#g2" x="478" y="310"/>
<use href="#g22" x="485" y="310"/>
<use href="#g14" x="523" y="310"/>
<use href="#g1" x="528" y="310"/>
<use href="#g10" x="535" y="310"/>
<use href="#g1" x="538" y="310"/>
<use href="#g2" x="545" y="310"/>
<use href="#g15" x="555" y="310"/>
<use href="#g14" x="557" y="310"/>
<use href="#g5" x="562" y="310"/>
<use href="#g10" x="569" y="310"/>
<use href="#g4" x="572" y="310"/>
<use href="#g9" x="579" y="310"/>
<use href="#g11" x="586" y="310"/>
<use href="#g3" x="592" y="310"/>
<use href="#g10" x="599" y="310"/>
<use href="#g2" x="602" y="310"/>
<use href="#g5" x="609" y="310"/>
<use href="#g16" x="615" y="310"/>
<use href="#g13" x="88" y="342"/>
<use href="#g20" x="114" y="342"/>
<use href="#g19" x="121" y="342"/>
<use href="#g2" x="132" y="342"/>
<use href="#g10" x="139" y="342"/>
<use href="#g7" x="142" y="342"/>
<use href="#g6" x="149" y="342"/>
<use href="#g12" x="156" y="342"/>
<use href="#g20" x="180" y="342"/>
<use href="#g19" x="187" y="342"/>
<use href="#g1" x="198" y="342"/>
<use href="#g0" x="205" y="342"/>
<use href="#g10" x="212" y="342"/>
<use href="#g4" x="215" y="342"/>
<use href="#g5" x="222" y="342"/>
<use href="#g11" x="229" y="342"/>
<use href="#g19" x="246" y="342"/>
<use href="#g9" x="257" y="342"/>
<use href="#g17" x="267" y="342"/>
<use href="#g19" x="281" y="342"/>
<use href="#g0" x="292" y="342"/>
<use href="#g10" x="299" y="342"/>
<use href="#g3" x="302" y="342"/>
<use href="#g2" x="309" y="342"/>
<use href="#g18" x="315" y="342"/>
<use href="#g12" x="320" y="342"/>
<use href="#g20" x="328" y="342"/>
<use href="#g19" x="335" y="342"/>
<use href="#g1" x="346" y="342"/>
<use href="#g4" x="353" y="342"/>
<use href="#g22" x="360" y="342"/>
<use href="#g13" x="124" y="358"/>
<use href="#g19" x="138" y="358"/>
<use href="#g2" x="149" y="358"/>
<use href="#g10" x="156" y="358"/>
<use href="#g9" x="159" y="358"/>
<use href="#g7" x="166" y="358"/>
<use href="#g17" x="176" y="358"/>
<use href="#g19" x="190" y="358"/>
<use href="#g0" x="201" y="358"/>
<use href="#g10" x="208" y="358"/>
<use href="#g0" x="211" y="358"/>
<use href="#g0" x="218" y="358"/>
<use href="#g3" x="225" y="358"/>
<use href="#g18" x="231" y="358"/>
<use href="#g11" x="55" y="406"/>
<use href="#g2" x="61" y="406"/>
<use href="#g0" x="68" y="406"/>
<use href="#g0" x="75" y="406"/>
<use href="#g6" x="82" y="406"/>
<use href="#g14" x="196" y="406"/>
<use href="#g5" x="201" y="406"/>
<use href="#g2" x="225" y="406"/>
<use href="#g5" x="232" y="406"/>
<use href="#g10" x="239" y="406"/>
<use href="#g9" x="242" y="406"/>
<use href="#g5" x="249" y="406"/>
<use href="#g6" x="256" y="406"/>
<use href="#g4" x="287" y="406"/>
<use href="#g9" x="294" y="406"/>
<use href="#g14" x="331" y="406"/>
<use href="#g3" x="336" y="406"/>
<use href="#g10" x="343" y="406"/>
<use href="#g2" x="346" y="406"/>
<use href="#g1" x="370" y="406"/>
<use href="#g8" x="377" y="406"/>
<use href="#g10" x="384" y="406"/>
<use href="#g6" x="387" y="406"/>
<use href="#g9" x="394" y="406"/>
<use href="#g5" x="401" y="406"/>
<use href="#g5" x="432" y="406"/>
<use href="#g0" x="439" y="406"/>
<use href="#g1" x="461" y="406"/>
<use href="#g8" x="468" y="406"/>
<use href="#g10" x="475" y="406"/>
<use href="#g8" x="478" y="406"/>
<use href="#g22" x="485" y="406"/>
<use href="#g14" x="516" y="406"/>
<use href="#g1" x="521" y="406"/>
<use href="#g10" x="528" y="406"/>
<use href="#g8" x="531" y="406"/>
<use href="#g0" x="538" y="406"/>
<use href="#g15" x="548" y="406"/>
<use href="#g14" x="550" y="406"/>
<use href="#g1" x="555" y="406"/>
<use href="#g0" x="562" y="406"/>
<use href="#g10" x="569" y="406"/>
<use href="#g7" x="572" y="406"/>
<use href="#g3" x="579" y="406"/>
<use href="#g11" x="586" y="406"/>
<use href="#g7" x="592" y="406"/>
<use href="#g10" x="599" y="406"/>
<use href="#g1" x="602" y="406"/>
<use href="#g3" x="609" y="406"/>
<use href="#g16" x="615" y="406"/>
<use href="#g11" x="55" y="422"/>
<use href="#g2" x="61" y="422"/>
<use href="#g0" x="68" y="422"/>
<use href="#g1" x="75" y="422"/>
<use href="#g8" x="82" y="422"/>
<use href="#g14" x="186" y="422"/>
<use href="#g3" x="191" y="422"/>
<use href="#g10" x="198" y="422"/>
<use href="#g4" x="201" y="422"/>
<use href="#g2" x="225" y="422"/>
<use href="#g8" x="232" y="422"/>
<use href="#g10" x="239" y="422"/>
<use href="#g9" x="242" y="422"/>
<use href="#g7" x="249" y="422"/>
<use href="#g9" x="256" y="422"/>
<use href="#g1" x="287" y="422"/>
<use href="#g9" x="294" y="422"/>
<use href="#g14" x="331" y="422"/>
<use href="#g1" x="336" y="422"/>
<use href="#g10" x="343" y="422"/>
<use href="#g1" x="346" y="422"/>
<use href="#g2" x="370" y="422"/>
<use href="#g3" x="377" y="422"/>
<use href="#g10" x="384" y="422"/>
<use href="#g7" x="387" y="422"/>
<use href="#g3" x="394" y="422"/>
<use href="#g5" x="401" y="422"/>
<use href="#g1" x="432" y="422"/>
<use href="#g9" x="439" y="422"/>
<use href="#g5" x="468" y="422"/>
<use href="#g10" x="475" y="422"/>
<use href="#g3" x="478" y="422"/>
<use href="#g22" x="485" y="422"/>
<use href="#g14" x="509" y="422"/>
<use href="#g2" x="514" y="422"/>
<use href="#g10" x="521" y="422"/>
<use href="#g3" x="524" y="422"/>
<use href="#g0" x="531" y="422"/>
<use href="#g15" x="541" y="422"/>
<use href="#g14" x="543" y="422"/>
<use href="#g1" x="548" y="422"/>
<use href="#g9" x="555" y="422"/>
<use href="#g10" x="562" y="422"/>
<use href="#g1" x="565" y="422"/>
<use href="#g4" x="572" y="422"/>
<use href="#g11" x="579" y="422"/>
<use href="#g1" x="585" y="422"/>
<use href="#g4" x="592" y="422"/>
<use href="#g10" x="599" y="422"/>
<use href="#g5" x="602" y="422"/>
<use href="#g4" x="609" y="422"/>
<use href="#g16" x="615" y="422"/>
<use href="#g11" x="75" y="438"/>
<use href="#g2" x="82" y="438"/>
<use href="#g0" x="89" y="438"/>
<use href="#g1" x="96" y="438"/>
<use href="#g0" x="103" y="438"/>
<use href="#g14" x="186" y="438"/>
<use href="#g4" x="191" y="438"/>
<use href="#g10" x="198" y="438"/>
<use href="#g4" x="201" y="438"/>
<use href="#g1" x="225" y="438"/>
<use href="#g8" x="232" y="438"/>
<use href="#g10" x="239" y="438"/>
<use href="#g6" x="242" y="438"/>
<use href="#g5" x="249" y="438"/>
<use href="#g9" x="256" y="438"/>
<use href="#g6" x="287" y="438"/>
<use href="#g8" x="294" y="438"/>
<use href="#g14" x="331" y="438"/>
<use href="#g0" x="336" y="438"/>
<use href="#g10" x="343" y="438"/>
<use href="#g4" x="346" y="438"/>
<use href="#g2" x="370" y="438"/>
<use href="#g0" x="377" y="438"/>
<use href="#g10" x="384" y="438"/>
<use href="#g8" x="387" y="438"/>
<use href="#g9" x="394" y="438"/>
<use href="#g3" x="401" y="438"/>
<use href="#g4" x="432" y="438"/>
<use href="#g5" x="439" y="438"/>
<use href="#g2" x="461" y="438"/>
<use href="#g6" x="468" y="438"/>
<use href="#g10" x="475" y="438"/>
<use href="#g4" x="478" y="438"/>
<use href="#g22" x="485" y="438"/>
<use href="#g14" x="516" y="438"/>
<use href="#g4" x="521" y="438"/>
<use href="#g10" x="528" y="438"/>
<use href="#g0" x="531" y="438"/>
<use href="#g0" x="538" y="438"/>
<use href="#g15" x="548" y="438"/>
<use href="#g14" x="550" y="438"/>
<use href="#g1" x="555" y="438"/>
<use href="#g1" x="562" y="438"/>
<use href="#g10" x="569" y="438"/>
<use href="#g5" x="572" y="438"/>
<use href="#g5" x="579" y="438"/>
<use href="#g11" x="586" y="438"/>
<use href="#g3" x="592" y="438"/>
<use href="#g10" x="599" y="438"/>
<use href="#g5" x="602" y="438"/>
<use href="#g5" x="609" y="438"/>
<use href="#g16" x="615" y="438"/>
<use href="#g11" x="53" y="454"/>
<use href="#g2" x="60" y="454"/>
<use href="#g0" x="67" y="454"/>
<use href="#g1" x="74" y="454"/>
<use href="#g4" x="81" y="454"/>
<use href="#g1" x="170" y="454"/>
<use href="#g10" x="177" y="454"/>
<use href="#g5" x="180" y="454"/>
<use href="#g4" x="187" y="454"/>
<use href="#g4" x="194" y="454"/>
<use href="#g4" x="201" y="454"/>
<use href="#g1" x="218" y="454"/>
<use href="#g7" x="225" y="454"/>
<use href="#g10" x="232" y="454"/>
<use href="#g4" x="235" y="454"/>
<use href="#g5" x="242" y="454"/>
<use href="#g1" x="249" y="454"/>
<use href="#g7" x="256" y="454"/>
<use href="#g2" x="287" y="454"/>
<use href="#g0" x="294" y="454"/>
<use href="#g14" x="310" y="454"/>
<use href="#g0" x="315" y="454"/>
<use href="#g10" x="322" y="454"/>
<use href="#g3" x="325" y="454"/>
<use href="#g8" x="332" y="454"/>
<use href="#g6" x="339" y="454"/>
<use href="#g1" x="346" y="454"/>
<use href="#g1" x="363" y="454"/>
<use href="#g5" x="370" y="454"/>
<use href="#g10" x="377" y="454"/>
<use href="#g5" x="380" y="454"/>
<use href="#g5" x="387" y="454"/>
<use href="#g9" x="394" y="454"/>
<use href="#g8" x="401" y="454"/>
<use href="#g1" x="432" y="454"/>
<use href="#g9" x="439" y="454"/>
<use href="#g1" x="461" y="454"/>
<use href="#g4" x="468" y="454"/>
<use href="#g10" x="475" y="454"/>
<use href="#g0" x="478" y="454"/>
<use href="#g22" x="485" y="454"/>
<use href="#g1" x="521" y="454"/>
<use href="#g10" x="528" y="454"/>
<use href="#g9" x="531" y="454"/>
<use href="#g3" x="538" y="454"/>
<use href="#g15" x="548" y="454"/>
<use href="#g14" x="550" y="454"/>
<use href="#g8" x="555" y="454"/>
<use href="#g10" x="562" y="454"/>
<use href="#g4" x="565" y="454"/>
<use href="#g4" x="572" y="454"/>
<use href="#g11" x="579" y="454"/>
<use href="#g1" x="585" y="454"/>
<use href="#g2" x="592" y="454"/>
<use href="#g10" x="599" y="454"/>
<use href="#g3" x="602" y="454"/>
<use href="#g0" x="609" y="454"/>
<use href="#g16" x="615" y="454"/>
<use href="#g11" x="63" y="470"/>
<use href="#g2" x="68" y="470"/>
<use href="#g0" x="75" y="470"/>
<use href="#g2" x="82" y="470"/>
<use href="#g0" x="89" y="470"/>
<use href="#g14" x="172" y="470"/>
<use href="#g7" x="177" y="470"/>
<use href="#g10" x="184" y="470"/>
<use href="#g7" x="187" y="470"/>
<use href="#g2" x="194" y="470"/>
<use href="#g2" x="201" y="470"/>
<use href="#g1" x="218" y="470"/>
<use href="#g4" x="225" y="470"/>
<use href="#g10" x="232" y="470"/>
<use href="#g3" x="235" y="470"/>
<use href="#g2" x="242" y="470"/>
<use href="#g4" x="249" y="470"/>
<use href="#g3" x="256" y="470"/>
<use href="#g1" x="280" y="470"/>
<use href="#g1" x="287" y="470"/>
<use href="#g7" x="294" y="470"/>
<use href="#g14" x="317" y="470"/>
<use href="#g7" x="322" y="470"/>
<use href="#g10" x="329" y="470"/>
<use href="#g7" x="332" y="470"/>
<use href="#g2" x="339" y="470"/>
<use href="#g2" x="346" y="470"/>
<use href="#g4" x="377" y="470"/>
<use href="#g3" x="384" y="470"/>
<use href="#g10" x="391" y="470"/>
<use href="#g0" x="394" y="470"/>
<use href="#g5" x="401" y="470"/>
<use href="#g1" x="425" y="470"/>
<use href="#g0" x="432" y="470"/>
<use href="#g6" x="439" y="470"/>
<use href="#g2" x="461" y="470"/>
<use href="#g0" x="468" y="470"/>
<use href="#g10" x="475" y="470"/>
<use href="#g3" x="478" y="470"/>
<use href="#g22" x="485" y="470"/>
<use href="#g0" x="528" y="470"/>
<use href="#g10" x="535" y="470"/>
<use href="#g0" x="538" y="470"/>
<use href="#g0" x="545" y="470"/>
<use href="#g15" x="555" y="470"/>
<use href="#g14" x="557" y="470"/>
<use href="#g8" x="562" y="470"/>
<use href="#g10" x="569" y="470"/>
<use href="#g6" x="572" y="470"/>
<use href="#g0" x="579" y="470"/>
<use href="#g11" x="586" y="470"/>
<use href="#g8" x="592" y="470"/>
<use href="#g10" x="599" y="470"/>
<use href="#g6" x="602" y="470"/>
<use href="#g0" x="609" y="470"/>
<use href="#g16" x="615" y="470"/>
<use href="#g11" x="66" y="486"/>
<use href="#g1" x="73" y="486"/>
<use href="#g9" x="80" y="486"/>
<use href="#g9" x="87" y="486"/>
<use href="#g9" x="94" y="486"/>
<use href="#g14" x="172" y="486"/>
<use href="#g7" x="177" y="486"/>
<use href="#g10" x="184" y="486"/>
<use href="#g7" x="187" y="486"/>
<use href="#g2" x="194" y="486"/>
<use href="#g2" x="201" y="486"/>
<use href="#g1" x="218" y="486"/>
<use href="#g6" x="225" y="486"/>
<use href="#g10" x="232" y="486"/>
<use href="#g4" x="235" y="486"/>
<use href="#g0" x="242" y="486"/>
<use href="#g9" x="249" y="486"/>
<use href="#g2" x="256" y="486"/>
<use href="#g7" x="294" y="486"/>
<use href="#g14" x="310" y="486"/>
<use href="#g0" x="315" y="486"/>
<use href="#g10" x="322" y="486"/>
<use href="#g7" x="325" y="486"/>
<use href="#g7" x="332" y="486"/>
<use href="#g2" x="339" y="486"/>
<use href="#g2" x="346" y="486"/>
<use href="#g9" x="370" y="486"/>
<use href="#g10" x="377" y="486"/>
<use href="#g2" x="380" y="486"/>
<use href="#g6" x="387" y="486"/>
<use href="#g6" x="394" y="486"/>
<use href="#g4" x="401" y="486"/>
<use href="#g4" x="439" y="486"/>
<use href="#g6" x="468" y="486"/>
<use href="#g10" x="475" y="486"/>
<use href="#g5" x="478" y="486"/>
<use href="#g22" x="485" y="486"/>
<use href="#g14" x="516" y="486"/>
<use href="#g6" x="521" y="486"/>
<use href="#g10" x="528" y="486"/>
<use href="#g9" x="531" y="486"/>
<use href="#g5" x="538" y="486"/>
<use href="#g15" x="548" y="486"/>
<use href="#g14" x="550" y="486"/>
<use href="#g2" x="555" y="486"/>
<use href="#g2" x="562" y="486"/>
<use href="#g10" x="569" y="486"/>
<use href="#g1" x="572" y="486"/>
<use href="#g2" x="579" y="486"/>
<use href="#g11" x="586" y="486"/>
<use href="#g8" x="592" y="486"/>
<use href="#g10" x="599" y="486"/>
<use href="#g2" x="602" y="486"/>
<use href="#g2" x="609" y="486"/>
<use href="#g16" x="615" y="486"/>
<use href="#g11" x="46" y="502"/>
<use href="#g2" x="52" y="502"/>
<use href="#g0" x="59" y="502"/>
<use href="#g1" x="66" y="502"/>
<use href="#g7" x="73" y="502"/>
<use href="#g17" x="84" y="502"/>
<use href="#g3" x="88" y="502"/>
<use href="#g21" x="98" y="502"/>
<use href="#g18" x="138" y="502"/>
<use href="#g14" x="172" y="502"/>
<use href="#g7" x="177" y="502"/>
<use href="#g10" x="184" y="502"/>
<use href="#g7" x="187" y="502"/>
<use href="#g2" x="194" y="502"/>
<use href="#g2" x="201" y="502"/>
<use href="#g2" x="218" y="502"/>
<use href="#g7" x="225" y="502"/>
<use href="#g10" x="232" y="502"/>
<use href="#g2" x="235" y="502"/>
<use href="#g9" x="242" y="502"/>
<use href="#g7" x="249" y="502"/>
<use href="#g2" x="256" y="502"/>
<use href="#g2" x="287" y="502"/>
<use href="#g5" x="294" y="502"/>
<use href="#g3" x="322" y="502"/>
<use href="#g10" x="329" y="502"/>
<use href="#g8" x="332" y="502"/>
<use href="#g6" x="339" y="502"/>
<use href="#g1" x="346" y="502"/>
<use href="#g1" x="363" y="502"/>
<use href="#g8" x="370" y="502"/>
<use href="#g10" x="377" y="502"/>
<use href="#g9" x="380" y="502"/>
<use href="#g1" x="387" y="502"/>
<use href="#g8" x="394" y="502"/>
<use href="#g9" x="401" y="502"/>
<use href="#g2" x="432" y="502"/>
<use href="#g4" x="439" y="502"/>
<use href="#g8" x="468" y="502"/>
<use href="#g10" x="475" y="502"/>
<use href="#g7" x="478" y="502"/>
<use href="#g22" x="485" y="502"/>
<use href="#g14" x="509" y="502"/>
<use href="#g1" x="514" y="502"/>
<use href="#g1" x="521" y="502"/>
<use href="#g10" x="528" y="502"/>
<use href="#g5" x="531" y="502"/>
<use href="#g8" x="538" y="502"/>
<use href="#g15" x="548" y="502"/>
<use href="#g14" x="550" y="502"/>
<use href="#g2" x="555" y="502"/>
<use href="#g4" x="562" y="502"/>
<use href="#g10" x="569" y="502"/>
<use href="#g6" x="572" y="502"/>
<use href="#g9" x="579" y="502"/>
<use href="#g11" x="586" y="502"/>
<use href="#g1" x="592" y="502"/>
<use href="#g10" x="599" y="502"/>
<use href="#g5" x="602" y="502"/>
<use href="#g2" x="609" y="502"/>
<use href="#g16" x="615" y="502"/>
<use href="#g13" x="88" y="534"/>
<use href="#g20" x="114" y="534"/>
<use href="#g19" x="121" y="534"/>
<use href="#g0" x="132" y="534"/>
<use href="#g10" x="139" y="534"/>
<use href="#g0" x="142" y="534"/>
<use href="#g0" x="149" y="534"/>
<use href="#g12" x="156" y="534"/>
<use href="#g20" x="180" y="534"/>
<use href="#g19" x="187" y="534"/>
<use href="#g3" x="198" y="534"/>
<use href="#g10" x="205" y="534"/>
<use href="#g3" x="208" y="534"/>
<use href="#g7" x="215" y="534"/>
<use href="#g11" x="222" y="534"/>
<use href="#g19" x="239" y="534"/>
<use href="#g6" x="250" y="534"/>
<use href="#g17" x="260" y="534"/>
<use href="#g19" x="274" y="534"/>
<use href="#g0" x="285" y="534"/>
<use href="#g10" x="292" y="534"/>
<use href="#g7" x="295" y="534"/>
<use href="#g6" x="302" y="534"/>
<use href="#g18" x="308" y="534"/>
<use href="#g12" x="313" y="534"/>
<use href="#g20" x="321" y="534"/>
<use href="#g19" x="328" y="534"/>
<use href="#g0" x="339" y="534"/>
<use href="#g22" x="346" y="534"/>
<use href="#g13" x="124" y="550"/>
<use href="#g19" x="138" y="550"/>
<use href="#g1" x="149" y="550"/>
<use href="#g10" x="156" y="550"/>
<use href="#g3" x="159" y="550"/>
<use href="#g7" x="166" y="550"/>
<use href="#g17" x="176" y="550"/>
<use href="#g19" x="190" y="550"/>
<use href="#g0" x="201" y="550"/>
<use href="#g10" x="208" y="550"/>
<use href="#g1" x="211" y="550"/>
<use href="#g7" x="218" y="550"/>
<use href="#g18" x="224" y="550"/>
<use href="#g11" x="47" y="598"/>
<use href="#g1" x="54" y="598"/>
<use href="#g9" x="61" y="598"/>
<use href="#g9" x="68" y="598"/>
<use href="#g0" x="75" y="598"/>
<use href="#g14" x="165" y="598"/>
<use href="#g1" x="170" y="598"/>
<use href="#g10" x="177" y="598"/>
<use href="#g1" x="180" y="598"/>
<use href="#g5" x="187" y="598"/>
<use href="#g8" x="194" y="598"/>
<use href="#g3" x="201" y="598"/>
<use href="#g1" x="218" y="598"/>
<use href="#g8" x="225" y="598"/>
<use href="#g10" x="232" y="598"/>
<use href="#g4" x="235" y="598"/>
<use href="#g1" x="242" y="598"/>
<use href="#g6" x="249" y="598"/>
<use href="#g9" x="256" y="598"/>
<use href="#g2" x="287" y="598"/>
<use href="#g2" x="294" y="598"/>
<use href="#g14" x="310" y="598"/>
<use href="#g1" x="315" y="598"/>
<use href="#g10" x="322" y="598"/>
<use href="#g5" x="325" y="598"/>
<use href="#g4" x="332" y="598"/>
<use href="#g4" x="339" y="598"/>
<use href="#g4" x="346" y="598"/>
<use href="#g2" x="363" y="598"/>
<use href="#g4" x="370" y="598"/>
<use href="#g10" x="377" y="598"/>
<use href="#g8" x="380" y="598"/>
<use href="#g6" x="387" y="598"/>
<use href="#g4" x="394" y="598"/>
<use href="#g8" x="401" y="598"/>
<use href="#g1" x="432" y="598"/>
<use href="#g9" x="439" y="598"/>
<use href="#g3" x="461" y="598"/>
<use href="#g5" x="468" y="598"/>
<use href="#g10" x="475" y="598"/>
<use href="#g8" x="478" y="598"/>
<use href="#g22" x="485" y="598"/>
<use href="#g0" x="514" y="598"/>
<use href="#g10" x="521" y="598"/>
<use href="#g3" x="524" y="598"/>
<use href="#g9" x="531" y="598"/>
<use href="#g15" x="541" y="598"/>
<use href="#g14" x="543" y="598"/>
<use href="#g1" x="548" y="598"/>
<use href="#g3" x="555" y="598"/>
<use href="#g10" x="562" y="598"/>
<use href="#g1" x="565" y="598"/>
<use href="#g9" x="572" y="598"/>
<use href="#g11" x="579" y="598"/>
<use href="#g1" x="585" y="598"/>
<use href="#g3" x="592" y="598"/>
<use href="#g10" x="599" y="598"/>
<use href="#g9" x="602" y="598"/>
<use href="#g6" x="609" y="598"/>
<use href="#g16" x="615" y="598"/>
<use href="#g11" x="47" y="614"/>
<use href="#g1" x="54" y="614"/>
<use href="#g9" x="61" y="614"/>
<use href="#g9" x="68" y="614"/>
<use href="#g8" x="75" y="614"/>
<use href="#g14" x="172" y="614"/>
<use href="#g3" x="177" y="614"/>
<use href="#g10" x="184" y="614"/>
<use href="#g8" x="187" y="614"/>
<use href="#g6" x="194" y="614"/>
<use href="#g1" x="201" y="614"/>
<use href="#g2" x="225" y="614"/>
<use href="#g1" x="232" y="614"/>
<use href="#g10" x="239" y="614"/>
<use href="#g0" x="242" y="614"/>
<use href="#g8" x="249" y="614"/>
<use href="#g1" x="256" y="614"/>
<use href="#g2" x="287" y="614"/>
<use href="#g0" x="294" y="614"/>
<use href="#g14" x="310" y="614"/>
<use href="#g0" x="315" y="614"/>
<use href="#g10" x="322" y="614"/>
<use href="#g7" x="325" y="614"/>
<use href="#g7" x="332" y="614"/>
<use href="#g2" x="339" y="614"/>
<use href="#g2" x="346" y="614"/>
<use href="#g2" x="363" y="614"/>
<use href="#g5" x="370" y="614"/>
<use href="#g10" x="377" y="614"/>
<use href="#g7" x="380" y="614"/>
<use href="#g1" x="387" y="614"/>
<use href="#g4" x="394" y="614"/>
<use href="#g2" x="401" y="614"/>
<use href="#g1" x="432" y="614"/>
<use href="#g5" x="439" y="614"/>
<use href="#g2" x="461" y="614"/>
<use href="#g5" x="468" y="614"/>
<use href="#g10" x="475" y="614"/>
<use href="#g9" x="478" y="614"/>
<use href="#g22" x="485" y="614"/>
<use href="#g14" x="509" y="614"/>
<use href="#g3" x="514" y="614"/>
<use href="#g10" x="521" y="614"/>
<use href="#g0" x="524" y="614"/>
<use href="#g9" x="531" y="614"/>
<use href="#g15" x="541" y="614"/>
<use href="#g14" x="543" y="614"/>
<use href="#g1" x="548" y="614"/>
<use href="#g9" x="555" y="614"/>
<use href="#g10" x="562" y="614"/>
<use href="#g0" x="565" y="614"/>
<use href="#g5" x="572" y="614"/>
<use href="#g11" x="579" y="614"/>
<use href="#g1" x="585" y="614"/>
<use href="#g2" x="592" y="614"/>
<use href="#g10" x="599" y="614"/>
<use href="#g8" x="602" y="614"/>
<use href="#g7" x="609" y="614"/>
<use href="#g16" x="615" y="614"/>
<use href="#g11" x="46" y="630"/>
<use href="#g2" x="52" y="630"/>
<use href="#g0" x="59" y="630"/>
<use href="#g1" x="66" y="630"/>
<use href="#g7" x="73" y="630"/>
<use href="#g17" x="84" y="630"/>
<use href="#g6" x="88" y="630"/>
<use href="#g21" x="98" y="630"/>
<use href="#g18" x="138" y="630"/>
<use href="#g14" x="186" y="630"/>
<use href="#g0" x="191" y="630"/>
<use href="#g10" x="198" y="630"/>
<use href="#g1" x="201" y="630"/>
<use href="#g2" x="218" y="630"/>
<use href="#g7" x="225" y="630"/>
<use href="#g10" x="232" y="630"/>
<use href="#g2" x="235" y="630"/>
<use href="#g9" x="242" y="630"/>
<use href="#g7" x="249" y="630"/>
<use href="#g2" x="256" y="630"/>
<use href="#g2" x="287" y="630"/>
<use href="#g5" x="294" y="630"/>
<use href="#g3" x="322" y="630"/>
<use href="#g10" x="329" y="630"/>
<use href="#g8" x="332" y="630"/>
<use href="#g6" x="339" y="630"/>
<use href="#g1" x="346" y="630"/>
<use href="#g1" x="363" y="630"/>
<use href="#g8" x="370" y="630"/>
<use href="#g10" x="377" y="630"/>
<use href="#g9" x="380" y="630"/>
<use href="#g1" x="387" y="630"/>
<use href="#g8" x="394" y="630"/>
<use href="#g9" x="401" y="630"/>
<use href="#g2" x="432" y="630"/>
<use href="#g4" x="439" y="630"/>
<use href="#g3" x="461" y="630"/>
<use href="#g8" x="468" y="630"/>
<use href="#g10" x="475" y="630"/>
<use href="#g4" x="478" y="630"/>
<use href="#g22" x="485" y="630"/>
<use href="#g14" x="516" y="630"/>
<use href="#g3" x="521" y="630"/>
<use href="#g10" x="528" y="630"/>
<use href="#g9" x="531" y="630"/>
<use href="#g6" x="538" y="630"/>
<use href="#g15" x="548" y="630"/>
<use href="#g14" x="550" y="630"/>
<use href="#g1" x="555" y="630"/>
<use href="#g7" x="562" y="630"/>
<use href="#g10" x="569" y="630"/>
<use href="#g0" x="572" y="630"/>
<use href="#g7" x="579" y="630"/>
<use href="#g11" x="586" y="630"/>
<use href="#g9" x="592" y="630"/>
<use href="#g10" x="599" y="630"/>
<use href="#g1" x="602" y="630"/>
<use href="#g5" x="609" y="630"/>
<use href="#g16" x="615" y="630"/>
<use href="#g13" x="88" y="662"/>
<use href="#g20" x="114" y="662"/>
<use href="#g19" x="121" y="662"/>
<use href="#g0" x="132" y="662"/>
<use href="#g10" x="139" y="662"/>
<use href="#g0" x="142" y="662"/>
<use href="#g0" x="149" y="662"/>
<use href="#g12" x="156" y="662"/>
<use href="#g20" x="180" y="662"/>
<use href="#g19" x="187" y="662"/>
<use href="#g0" x="198" y="662"/>
<use href="#g10" x="205" y="662"/>
<use href="#g2" x="208" y="662"/>
<use href="#g2" x="215" y="662"/>
<use href="#g11" x="222" y="662"/>
<use href="#g19" x="239" y="662"/>
<use href="#g2" x="250" y="662"/>
<use href="#g17" x="260" y="662"/>
<use href="#g19" x="274" y="662"/>
<use href="#g0" x="285" y="662"/>
<use href="#g10" x="292" y="662"/>
<use href="#g9" x="295" y="662"/>
<use href="#g0" x="302" y="662"/>
<use href="#g18" x="308" y="662"/>
<use href="#g12" x="313" y="662"/>
<use href="#g20" x="321" y="662"/>
<use href="#g19" x="328" y="662"/>
<use href="#g0" x="339" y="662"/>
<use href="#g22" x="346" y="662"/>
<use href="#g13" x="124" y="678"/>
<use href="#g19" x="138" y="678"/>
<use href="#g0" x="149" y="678"/>
<use href="#g10" x="156" y="678"/>
<use href="#g5" x="159" y="678"/>
<use href="#g3" x="166" y="678"/>
<use href="#g17" x="176" y="678"/>
<use href="#g19" x="190" y="678"/>
<use href="#g0" x="201" y="678"/>
<use href="#g10" x="208" y="678"/>
<use href="#g6" x="211" y="678"/>
<use href="#g0" x="218" y="678"/>
<use href="#g18" x="224" y="678"/>
<use href="#g14" x="628" y="718"/>
<use href="#g5" x="633" y="718"/>
<use href="#g0" x="640" y="718"/>
<use href="#g14" x="694" y="718"/>
<use href="#g2" x="699" y="718"/>
<use href="#g5" x="706" y="718"/>
<use href="#g0" x="770" y="718"/>
<use href="#g2" x="835" y="718"/>
<use href="#g5" x="842" y="718"/>
<use href="#g5" x="903" y="718"/>
<use href="#g0" x="910" y="718"/>
<use href="#g14" x="853" y="732" fill="#444"/>
<use href="#g13" x="170" y="742"/>
<use href="#g20" x="195" y="742"/>
<use href="#g19" x="202" y="742"/>
<use href="#g1" x="213" y="742"/>
<use href="#g10" x="220" y="742"/>
<use href="#g6" x="223" y="742"/>
<use href="#g2" x="230" y="742"/>
<use href="#g11" x="237" y="742"/>
<use href="#g19" x="255" y="742"/>
<use href="#g3" x="266" y="742"/>
<use href="#g17" x="276" y="742"/>
<use href="#g19" x="290" y="742"/>
<use href="#g0" x="302" y="742"/>
<use href="#g10" x="309" y="742"/>
<use href="#g6" x="312" y="742"/>
<use href="#g5" x="319" y="742"/>
<use href="#g18" x="325" y="742"/>
<use href="#g11" x="330" y="742"/>
<use href="#g20" x="338" y="742"/>
<use href="#g19" x="345" y="742"/>
<use href="#g0" x="356" y="742"/>
<use href="#g22" x="363" y="742"/>
</g>
</svg>
</body></html>
